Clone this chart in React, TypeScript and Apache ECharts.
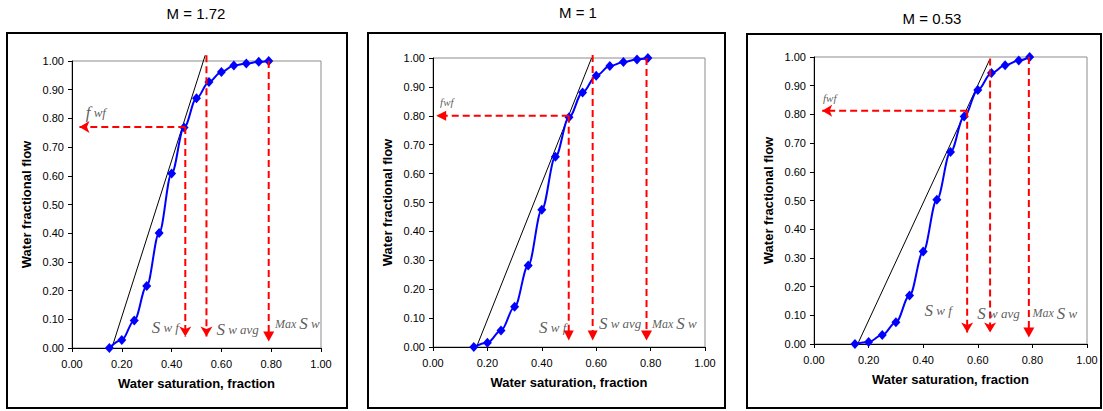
import React, { useEffect, useRef } from "react";
import * as echarts from "echarts";

// ---------- data ----------
const titles = ["M = 1.72", "M = 1", "M = 0.53"];
const satValues = [0.15, 0.2, 0.25, 0.3, 0.35, 0.4, 0.45, 0.5, 0.55, 0.6, 0.65, 0.7, 0.75, 0.79];
const fwM172 = [0, 0.028, 0.096, 0.216, 0.401, 0.608, 0.768, 0.87, 0.927, 0.962, 0.984, 0.991, 0.997, 1.0];
const fwM1 = [0, 0.015, 0.057, 0.139, 0.282, 0.475, 0.658, 0.795, 0.881, 0.939, 0.972, 0.986, 0.995, 1.0];
const fwM053 = [0, 0.007, 0.031, 0.076, 0.169, 0.322, 0.503, 0.669, 0.793, 0.885, 0.944, 0.971, 0.988, 1.0];
const fwSeries = [fwM172, fwM1, fwM053];
// tangent line endpoints [sw, fw]
const tangents = [
  [[0.16, 0], [0.535, 1.02]],
  [[0.16, 0], [0.583, 1.0]],
  [[0.16, 0], [0.643, 0.99]],
];
// front values
const fwfValues = [0.77, 0.8, 0.813];
const swfValues = [0.455, 0.499, 0.561];
const swAvgValues = [0.54, 0.587, 0.645];
const swAvgTop = [1.02, 1.01, 0.995];
const maxSwValues = [0.79, 0.785, 0.787];
const xTicks = { min: 0, max: 1, interval: 0.2 };
const yTicks = { min: 0, max: 1, interval: 0.1 };

// ---------- layout ----------
const panels = [
  {
    box: { x: 7, y: 33, w: 340, h: 375 },
    grid: { left: 72, top: 61, width: 249, height: 287 },
    title: { x: 196, y: 13 },
    arrow: "arrow",
    fwfBig: true,
    labels: { fwf: [0.055, 0.82], swf: [0.32, 0.073], avg: [0.58, 0.066], max: [0.815, 0.084] },
  },
  {
    box: { x: 368, y: 33, w: 357, h: 375 },
    grid: { left: 433, top: 58, width: 272, height: 289 },
    title: { x: 578, y: 12 },
    arrow: "triangle",
    fwfBig: false,
    labels: { fwf: [0.026, 0.848], swf: [0.39, 0.066], avg: [0.61, 0.083], max: [0.805, 0.08] },
  },
  {
    box: { x: 747, y: 34, w: 354, h: 374 },
    grid: { left: 814, top: 57, width: 273, height: 287 },
    title: { x: 932, y: 18 },
    arrow: "arrow",
    fwfBig: false,
    labels: { fwf: [0.033, 0.857], swf: [0.405, 0.115], avg: [0.598, 0.105], max: [0.8, 0.108] },
  },
];

const SANS = "Liberation Sans, Arial, sans-serif";
const SERIF = "Liberation Serif, Times New Roman, serif";
const RED = "#ff0000";

const rich = {
  S: { fontFamily: SERIF, fontSize: 17, color: "#333", fontStyle: "italic" },
  w: { fontFamily: SERIF, fontSize: 13, color: "#333", fontStyle: "italic" },
  m: { fontFamily: SERIF, fontSize: 12, color: "#333", fontStyle: "italic" },
  f: { fontFamily: SERIF, fontSize: 17, color: "#333", fontStyle: "italic" },
  fs: { fontFamily: SERIF, fontSize: 13, color: "#333", fontStyle: "italic" },
  sm: { fontFamily: SERIF, fontSize: 11, color: "#333", fontStyle: "italic" },
};

function dashedArrow(i: number, from: number[], to: number[], symbol: string, size: number[], rotate: number) {
  return {
    type: "line",
    xAxisIndex: i,
    yAxisIndex: i,
    clip: false,
    z: 4,
    silent: true,
    lineStyle: { color: RED, width: 2, type: [7, 4] },
    itemStyle: { color: RED },
    showSymbol: true,
    data: [
      { value: from, symbol: "none" },
      { value: to, symbol, symbolSize: size, symbolRotate: rotate },
    ],
  };
}

function annotation(i: number, pos: number[], text: string) {
  return {
    type: "scatter",
    xAxisIndex: i,
    yAxisIndex: i,
    silent: true,
    z: 5,
    symbolSize: 0,
    itemStyle: { color: "transparent" },
    data: [
      {
        value: pos,
        label: {
          show: true,
          position: [0, 0],
          align: "left",
          verticalAlign: "middle",
          formatter: text,
          rich,
        },
      },
    ],
  };
}

function buildOption() {
  const grids: any[] = [];
  const xAxes: any[] = [];
  const yAxes: any[] = [];
  const series: any[] = [];
  const graphics: any[] = [];

  panels.forEach((p, i) => {
    graphics.push({
      type: "rect",
      shape: { x: p.box.x, y: p.box.y, width: p.box.w, height: p.box.h },
      style: { fill: "none", stroke: "#000", lineWidth: 2 },
      z: 0,
    });
    graphics.push({
      type: "text",
      x: p.title.x,
      y: p.title.y,
      style: {
        text: titles[i],
        fontFamily: SANS,
        fontSize: 15,
        fill: "#000",
        align: "center",
        verticalAlign: "middle",
      },
    });
    grids.push({
      ...p.grid,
      show: true,
      borderColor: "#8c8c8c",
      borderWidth: 1,
      backgroundColor: "transparent",
    });
    xAxes.push({
      gridIndex: i,
      type: "value",
      ...xTicks,
      name: "Water saturation, fraction",
      nameLocation: "middle",
      nameGap: 29,
      nameTextStyle: { fontFamily: SANS, fontWeight: "bold", fontSize: 13, color: "#000" },
      axisLine: { show: true, onZero: false, lineStyle: { color: "#000", width: 1 } },
      axisTick: { show: true, length: 4, lineStyle: { color: "#000" } },
      axisLabel: {
        fontFamily: SANS,
        fontSize: 11,
        color: "#000",
        margin: 10,
        formatter: (v: number) => v.toFixed(2),
      },
      splitLine: { show: false },
    });
    yAxes.push({
      gridIndex: i,
      type: "value",
      ...yTicks,
      name: "Water fractional flow",
      nameLocation: "middle",
      nameGap: 39,
      nameTextStyle: { fontFamily: SANS, fontWeight: "bold", fontSize: 13, color: "#000" },
      axisLine: { show: true, onZero: false, lineStyle: { color: "#000", width: 1 } },
      axisTick: { show: true, length: 4, lineStyle: { color: "#000" } },
      axisLabel: {
        fontFamily: SANS,
        fontSize: 11,
        color: "#000",
        margin: 8,
        formatter: (v: number) => v.toFixed(2),
      },
      splitLine: { show: false },
    });

    // tangent
    series.push({
      type: "line",
      xAxisIndex: i,
      yAxisIndex: i,
      clip: false,
      silent: true,
      symbol: "none",
      z: 2,
      lineStyle: { color: "#000", width: 1 },
      data: tangents[i],
    });
    // fractional flow curve
    series.push({
      type: "line",
      xAxisIndex: i,
      yAxisIndex: i,
      silent: true,
      smooth: 0.35,
      smoothMonotone: "x",
      symbol: "diamond",
      symbolSize: [9, 10],
      z: 3,
      lineStyle: { color: "#0000ff", width: 2 },
      itemStyle: { color: "#0000ff" },
      data: satValues.map((s, j) => [s, fwSeries[i][j]]),
    });

    const a = p.arrow;
    const small = a === "arrow" ? [9, 10] : [10, 10];
    // fwf arrow (horizontal to the left)
    series.push(dashedArrow(i, [swfValues[i], fwfValues[i]], [0.03, fwfValues[i]], a, small, 90));
    // Swf arrow
    series.push(dashedArrow(i, [swfValues[i], fwfValues[i]], [swfValues[i], 0.04], a, small, 180));
    // Sw avg arrow
    series.push(dashedArrow(i, [swAvgValues[i], swAvgTop[i]], [swAvgValues[i], 0.04], a, small, 180));
    // Max Sw arrow
    series.push(dashedArrow(i, [maxSwValues[i], 1.0], [maxSwValues[i], 0.04], "triangle", [11, 10], 180));

    const L = p.labels;
    series.push(annotation(i, L.fwf, p.fwfBig ? "{f|f}{fs| wf}" : "{sm|fwf}"));
    series.push(annotation(i, L.swf, "{S|S}{w| w f}"));
    series.push(annotation(i, L.avg, "{S|S}{w| w avg}"));
    series.push(annotation(i, L.max, "{m|Max }{S|S}{w| w}"));
  });

  return {
    animation: false,
    backgroundColor: "#ffffff",
    grid: grids,
    xAxis: xAxes,
    yAxis: yAxes,
    series,
    graphic: graphics,
  };
}

export default function App() {
  const ref = useRef<HTMLDivElement>(null);
  useEffect(() => {
    if (!ref.current) return;
    const chart = echarts.init(ref.current, undefined, { renderer: "svg" });
    chart.setOption(buildOption() as any);
    return () => chart.dispose();
  }, []);
  return (
    <div
      ref={ref}
      style={{ position: "absolute", left: 0, top: 0, width: 1103, height: 411, background: "#fff" }}
    />
  );
}
